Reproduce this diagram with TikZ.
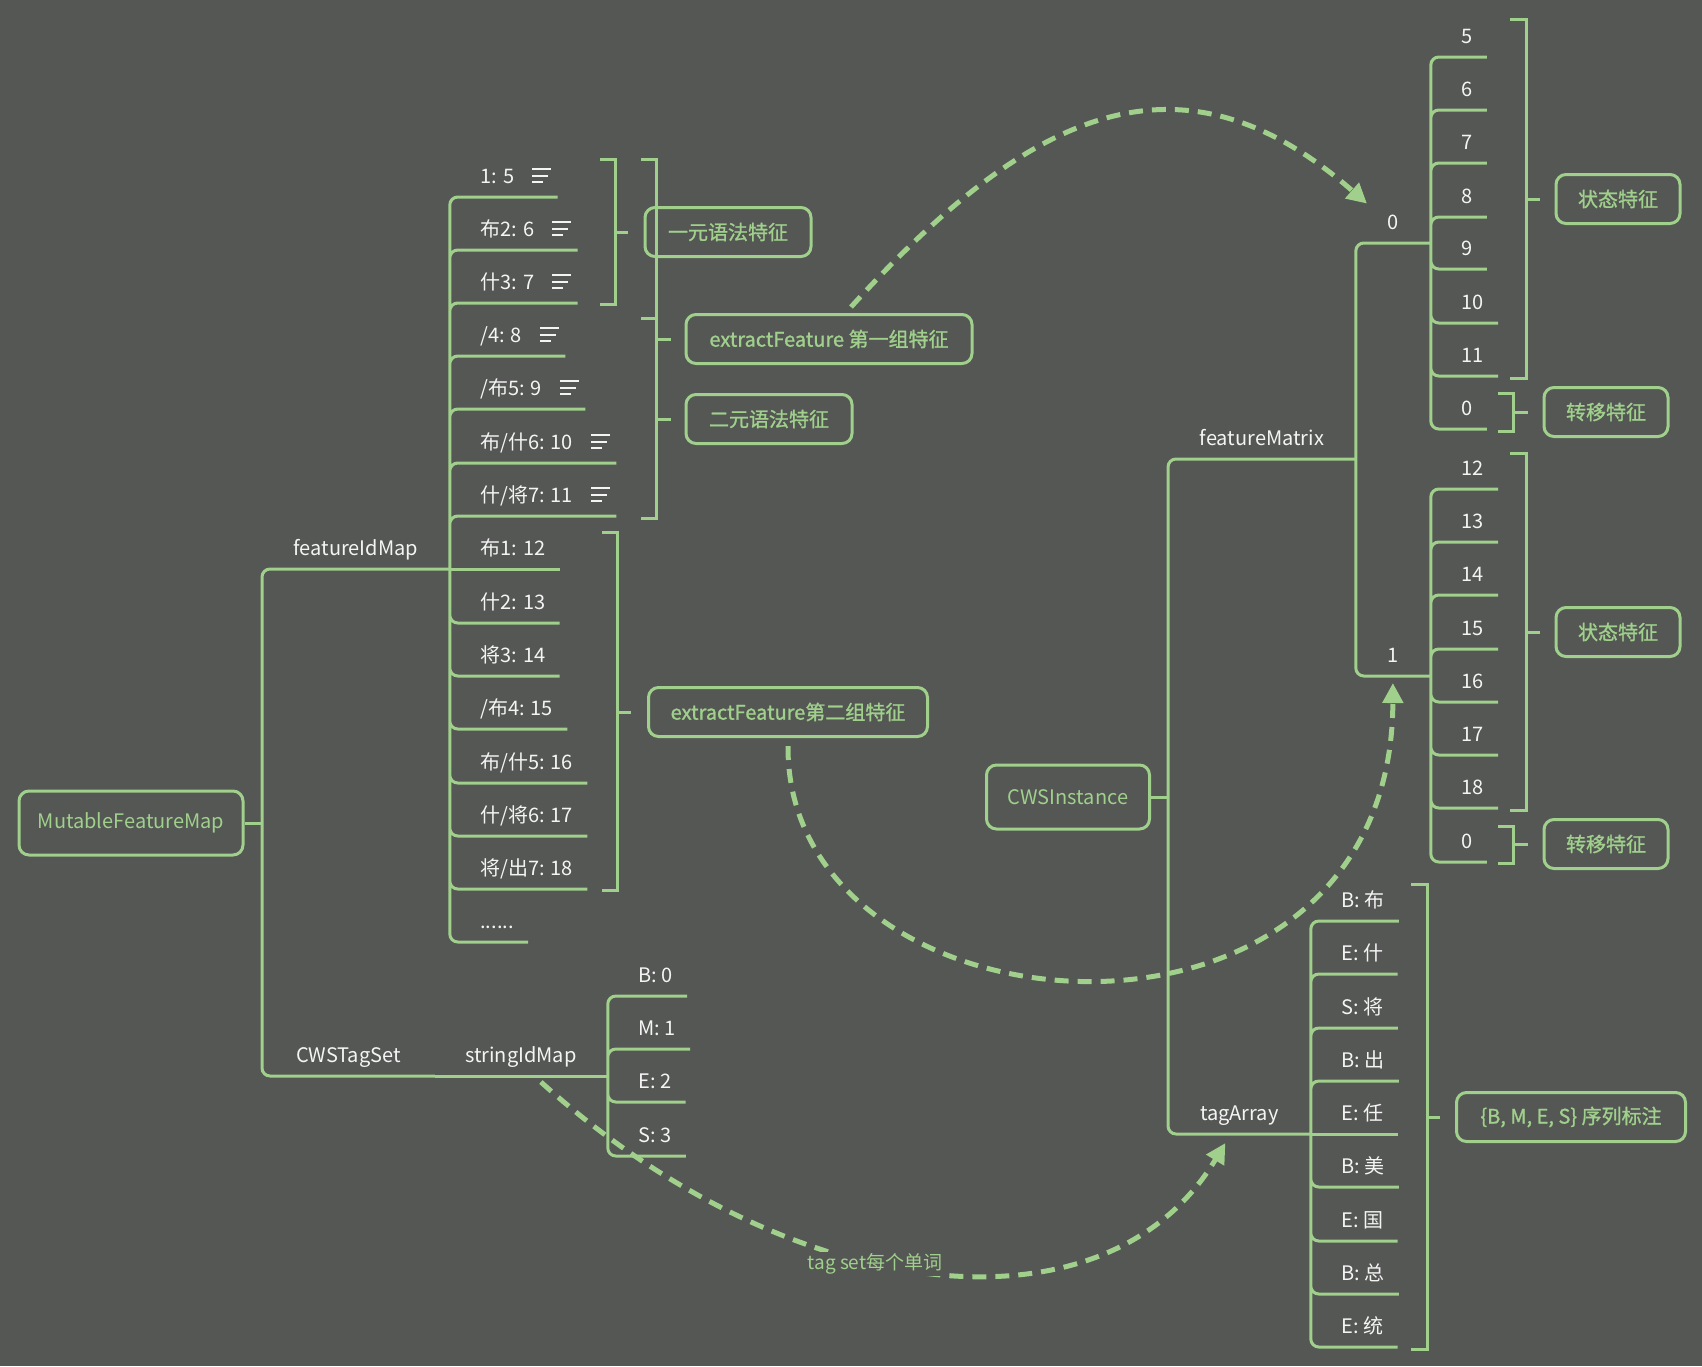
\documentclass[tikz,border=0pt]{standalone}
\usepackage{fontspec}
\setmainfont{Noto Sans CJK SC}
\newfontfamily\sumfont[FakeBold=1.2]{Noto Sans CJK SC}
\usepackage{tikz}
\usetikzlibrary{arrows.meta}
\definecolor{mapbg}{HTML}{545754}
\definecolor{mapgreen}{HTML}{A0D08C}
\definecolor{leaffg}{HTML}{F4F4F4}
\newcommand{\noteicon}{%
  \rlap{\rule[6.4pt]{9.5pt}{0.9pt}}%
  \rlap{\rule[3.2pt]{8pt}{0.9pt}}%
  \rule{5.5pt}{0.9pt}\hspace{4pt}}

\begin{document}
\begin{tikzpicture}[
  x=0.5pt, y=-0.5pt,
  tree/.style={draw=mapgreen, line width=1.5pt, rounded corners=4pt},
  brace/.style={draw=mapgreen, line width=1.5pt},
  leaf/.style={anchor=south west, inner xsep=7pt, inner ysep=0pt,
               text height=8pt, text depth=6.8pt, text=leaffg,
               font=\fontsize{10}{12}\selectfont},
  topic/.style={leaf, inner xsep=0pt},
  root/.style={draw=mapgreen, line width=1.5pt, rounded corners=5pt,
               minimum height=32pt, text=mapgreen,
               font=\fontsize{10}{12}\selectfont},
  summary/.style={draw=mapgreen, line width=1.5pt, rounded corners=5pt,
                  minimum height=24.5pt, inner xsep=0pt, text=mapgreen,
                  font=\sumfont\fontsize{10}{12}\selectfont},
  link/.style={draw=mapgreen, line width=2.5pt, dash pattern=on 7pt off 4.5pt,
               -{Triangle[length=10pt, width=10pt]}},
  note/.style={fill=mapbg, inner sep=1pt, text=mapgreen,
               font=\fontsize{9.5}{11}\selectfont},
]
  \fill[mapbg] (0,0) rectangle (1702,1366);
  \useasboundingbox (0,0) rectangle (1702,1366);

  \node[root, minimum width=112pt]  (mfm)  at (131,823)  {MutableFeatureMap};
  \node[root, minimum width=81.5pt] (cwsi) at (1068,797) {CWSInstance};
  \coordinate (mfmJ) at (262,823);
  \coordinate (cwsJ) at (1168,797);

  \node[topic, minimum width=93.5pt] (fim) at (262,569)   {featureIdMap};
  \node[topic, minimum width=86pt]   (cts) at (262,1076)  {CWSTagSet};
  \node[topic, minimum width=86.5pt] (sim) at (434,1076)  {stringIdMap};
  \node[topic, minimum width=93.5pt] (fm)  at (1168,459)  {featureMatrix};
  \node[topic, minimum width=71pt]   (ta)  at (1168,1134) {tagArray};
  \node[topic, minimum width=37.5pt] (m0)  at (1355,243)  {0};
  \node[topic, minimum width=37.5pt] (m1)  at (1355,676)  {1};

  \node[leaf] (f1)  at (466,197) {1: 5\hspace{9pt}\noteicon};
  \node[leaf] (f2)  at (466,250) {布2: 6\hspace{9pt}\noteicon};
  \node[leaf] (f3)  at (466,303) {什3: 7\hspace{9pt}\noteicon};
  \node[leaf] (f4)  at (466,356) {/4: 8\hspace{9pt}\noteicon};
  \node[leaf] (f5)  at (466,409) {/布5: 9\hspace{9pt}\noteicon};
  \node[leaf] (f6)  at (466,463) {布/什6: 10\hspace{9pt}\noteicon};
  \node[leaf] (f7)  at (466,516) {什/将7: 11\hspace{9pt}\noteicon};
  \node[leaf] (f8)  at (466,569) {布1: 12};
  \node[leaf] (f9)  at (466,623) {什2: 13};
  \node[leaf] (f10) at (466,676) {将3: 14};
  \node[leaf] (f11) at (466,729) {/布4: 15};
  \node[leaf] (f12) at (466,783) {布/什5: 16};
  \node[leaf] (f13) at (466,836) {什/将6: 17};
  \node[leaf] (f14) at (466,889) {将/出7: 18};
  \node[leaf] (f15) at (466,942) {......};

  \node[leaf] (s1) at (624,996)  {B: 0};
  \node[leaf] (s2) at (624,1049) {M: 1};
  \node[leaf] (s3) at (624,1102) {E: 2};
  \node[leaf] (s4) at (624,1156) {S: 3};

  \node[leaf] (p1) at (1447,57)  {5};
  \node[leaf] (p2) at (1447,110) {6};
  \node[leaf] (p3) at (1447,163) {7};
  \node[leaf] (p4) at (1447,217) {8};
  \node[leaf] (p5) at (1447,269) {9};
  \node[leaf] (p6) at (1447,323) {10};
  \node[leaf] (p7) at (1447,376) {11};
  \node[leaf] (p8) at (1447,429) {0};

  \node[leaf] (q1) at (1447,489) {12};
  \node[leaf] (q2) at (1447,542) {13};
  \node[leaf] (q3) at (1447,595) {14};
  \node[leaf] (q4) at (1447,649) {15};
  \node[leaf] (q5) at (1447,702) {16};
  \node[leaf] (q6) at (1447,755) {17};
  \node[leaf] (q7) at (1447,808) {18};
  \node[leaf] (q8) at (1447,862) {0};

  \node[leaf] (t1) at (1327,921)  {B: 布};
  \node[leaf] (t2) at (1327,974)  {E: 什};
  \node[leaf] (t3) at (1327,1028) {S: 将};
  \node[leaf] (t4) at (1327,1081) {B: 出};
  \node[leaf] (t5) at (1327,1134) {E: 任};
  \node[leaf] (t6) at (1327,1187) {B: 美};
  \node[leaf] (t7) at (1327,1241) {E: 国};
  \node[leaf] (t8) at (1327,1294) {B: 总};
  \node[leaf] (t9) at (1327,1347) {E: 统};

  \node[summary, minimum width=83pt]    (una)  at (728,232)   {一元语法特征};
  \node[summary, minimum width=143pt]   (ef1)  at (829,339)   {extractFeature 第一组特征};
  \node[summary, minimum width=83pt]    (ery)  at (769,419)   {二元语法特征};
  \node[summary, minimum width=139.5pt] (ef2)  at (788,712)   {extractFeature第二组特征};
  \node[summary, minimum width=62pt]    (st1)  at (1618,199)  {状态特征};
  \node[summary, minimum width=62pt]    (zy1)  at (1606,412)  {转移特征};
  \node[summary, minimum width=62pt]    (st2)  at (1618,632)  {状态特征};
  \node[summary, minimum width=62pt]    (zy2)  at (1606,844)  {转移特征};
  \node[summary, minimum width=114.5pt] (bmes) at (1571,1117) {\{B, M, E, S\} 序列标注};

  \draw[tree] (mfm.east) -- (mfmJ);
  \draw[tree] (mfmJ) |- (fim.south east) (mfmJ) |- (cts.south east);
  \draw[tree] (cts.south east) -- (sim.south east);
  \draw[tree] (cwsi.east) -- (cwsJ);
  \draw[tree] (cwsJ) |- (fm.south east) (cwsJ) |- (ta.south east);
  \draw[tree] (fm.south east) |- (m0.south east) (fm.south east) |- (m1.south east);

  \draw[tree] (fim.south east) |- (f1.south east)  (fim.south east) |- (f2.south east)
              (fim.south east) |- (f3.south east)  (fim.south east) |- (f4.south east)
              (fim.south east) |- (f5.south east)  (fim.south east) |- (f6.south east)
              (fim.south east) |- (f7.south east)  (fim.south east) |- (f9.south east)
              (fim.south east) |- (f10.south east) (fim.south east) |- (f11.south east)
              (fim.south east) |- (f12.south east) (fim.south east) |- (f13.south east)
              (fim.south east) |- (f14.south east) (fim.south east) |- (f15.south east);
  \draw[tree] (fim.south east) -- (f8.south east);

  \draw[tree] (sim.south east) |- (s1.south east) (sim.south east) |- (s2.south east)
              (sim.south east) |- (s3.south east) (sim.south east) |- (s4.south east);

  \draw[tree] (m0.south east) |- (p1.south east) (m0.south east) |- (p2.south east)
              (m0.south east) |- (p3.south east) (m0.south east) |- (p4.south east)
              (m0.south east) |- (p5.south east) (m0.south east) |- (p6.south east)
              (m0.south east) |- (p7.south east) (m0.south east) |- (p8.south east);

  \draw[tree] (m1.south east) |- (q1.south east) (m1.south east) |- (q2.south east)
              (m1.south east) |- (q3.south east) (m1.south east) |- (q4.south east)
              (m1.south east) |- (q5.south east) (m1.south east) |- (q6.south east)
              (m1.south east) |- (q7.south east) (m1.south east) |- (q8.south east);

  \draw[tree] (ta.south east) |- (t1.south east) (ta.south east) |- (t2.south east)
              (ta.south east) |- (t3.south east) (ta.south east) |- (t4.south east)
              (ta.south east) |- (t6.south east) (ta.south east) |- (t7.south east)
              (ta.south east) |- (t8.south east) (ta.south east) |- (t9.south east);
  \draw[tree] (ta.south east) -- (t5.south east);

  \draw[brace] (600,159) -- (615,159) -- (615,304) -- (600,304);
  \draw[brace] (615,232) -- ([xshift=-8pt]una.west);
  \draw[brace] (641,159) -- (656,159) -- (656,518) -- (641,518);
  \draw[brace] (641,318) -- (656,318);
  \draw[brace] (656,339) -- ([xshift=-7pt]ef1.west);
  \draw[brace] (656,419) -- ([xshift=-7pt]ery.west);
  \draw[brace] (602,532) -- (617,532) -- (617,890) -- (602,890);
  \draw[brace] (617,712) -- ([xshift=-8pt]ef2.west);
  \draw[brace] (1510,19) -- (1526,19) -- (1526,378) -- (1510,378);
  \draw[brace] (1526,199) -- ([xshift=-7.5pt]st1.west);
  \draw[brace] (1498,393) -- (1513,393) -- (1513,431) -- (1498,431);
  \draw[brace] (1513,412) -- ([xshift=-7.5pt]zy1.west);
  \draw[brace] (1510,453) -- (1526,453) -- (1526,810) -- (1510,810);
  \draw[brace] (1526,632) -- ([xshift=-7.5pt]st2.west);
  \draw[brace] (1498,826) -- (1513,826) -- (1513,863) -- (1498,863);
  \draw[brace] (1513,844) -- ([xshift=-7.5pt]zy2.west);
  \draw[brace] (1411,884) -- (1427,884) -- (1427,1349) -- (1411,1349);
  \draw[brace] (1427,1117) -- ([xshift=-7.5pt]bmes.west);

  \draw[link] ([xshift=11pt,yshift=3pt]ef1.north)
    .. controls (1030,110) and (1180,40) .. ([shift={(6pt,4.5pt)}]m0.north west);
  \draw[link] ([yshift=-4pt]ef2.south)
    .. controls (786,1045) and (1392,1090) .. ([yshift=-3.5pt]m1.south);
  \draw[link] ([xshift=10pt,yshift=-3pt]sim.south)
    .. controls (790,1307) and (1105,1343) .. ([xshift=-7pt,yshift=-4.5pt]ta.south);
  \node[note] (tsn) at (875,1264) {tag set每个单词};
\end{tikzpicture}
\end{document}
